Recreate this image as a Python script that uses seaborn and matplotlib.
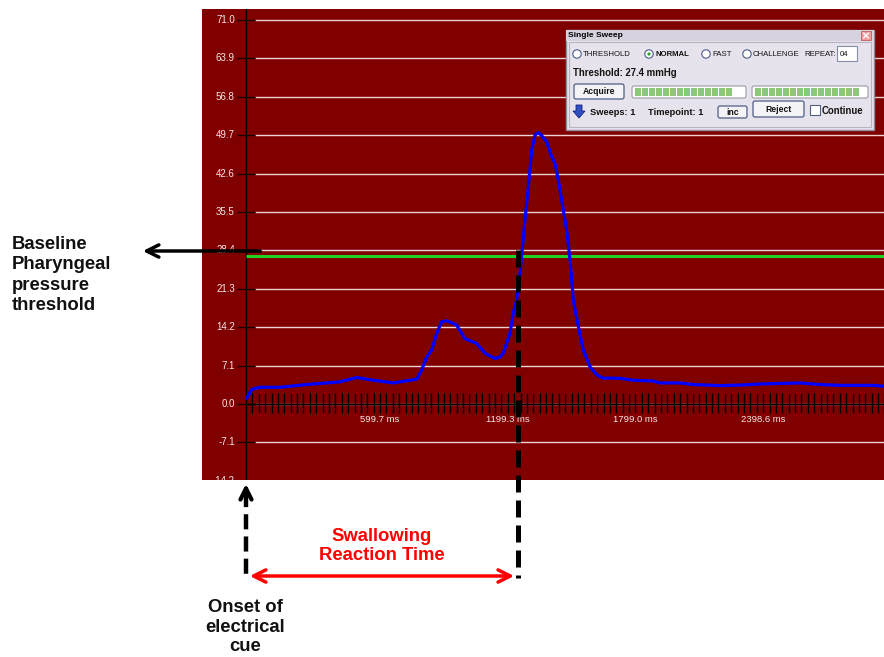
import numpy as np
import pandas as pd
import matplotlib
matplotlib.use("Agg")
import matplotlib.pyplot as plt
import seaborn as sns
from matplotlib.patches import Rectangle, FancyBboxPatch, Circle, Polygon

# ---------------- data ----------------
time_ms = [3, 27, 66, 160, 285, 441, 520, 598, 692, 755, 802, 825, 849, 872, 896,
           919, 943, 989, 1028, 1083, 1122, 1169, 1193, 1208, 1216, 1240, 1255,
           1271, 1287, 1310, 1326, 1342, 1357, 1373, 1389, 1412, 1436, 1451, 1467,
           1490, 1506, 1522, 1537, 1561, 1584, 1615, 1647, 1678, 1694, 1756, 1819,
           1913, 1944, 2038, 2101, 2226, 2320, 2414, 2508, 2602, 2696, 2790, 2884,
           2946, 2993]
pressure_mmhg = [1.05, 2.7, 3.1, 3.1, 3.6, 4.1, 4.9, 4.4, 3.9, 4.3, 4.6, 6.3, 8.7,
                 10.0, 13.1, 15.2, 15.4, 14.6, 12.1, 11.2, 9.4, 8.4, 8.7, 9.4, 10.3,
                 13.1, 16.8, 19.2, 24.2, 34.0, 40.2, 47.0, 49.7, 50.2, 49.6, 48.5,
                 45.7, 44.5, 41.4, 35.9, 32.2, 26.6, 19.2, 14.3, 10.0, 6.9, 5.4, 4.75,
                 4.8, 4.75, 4.4, 4.25, 3.9, 3.9, 3.6, 3.4, 3.5, 3.7, 3.8, 3.9, 3.6,
                 3.45, 3.45, 3.45, 3.3]
threshold_mmhg = 27.4
y_tick_values = [71.0, 63.9, 56.8, 49.7, 42.6, 35.5, 28.4, 21.3, 14.2, 7.1, 0.0, -7.1, -14.2]
y_tick_labels = ["71.0", "63.9", "56.8", "49.7", "42.6", "35.5", "28.4", "21.3",
                 "14.2", "7.1", "0.0", "-7.1", "-14.2"]
x_label_values = [599.7, 1199.3, 1799.0, 2398.6]
x_label_texts = ["599.7 ms", "1199.3 ms", "1799.0 ms", "2398.6 ms"]
minor_tick_step = 29.985
reaction_onset_ms = 0.0
reaction_end_ms = 1277.0

# ---------------- style ----------------
sns.set_style("white")
plt.rcParams["font.family"] = ["Liberation Sans", "DejaVu Sans"]

W, H = 884, 657
fig = plt.figure(figsize=(W / 100, H / 100), dpi=100)
fig.patch.set_facecolor("white")


def px_rect(l, t, r, b):
    return [l / W, 1 - b / H, (r - l) / W, (b - t) / H]


ax = fig.add_axes(px_rect(202, 9, 884, 480))
ax.set_facecolor("#800000")
XMIN, XMAX = -206.6, 2996.2
YMIN, YMAX = -14.05, 73.04

df = pd.DataFrame({"time_ms": time_ms, "pressure": pressure_mmhg})

# grid + y ticks
ax.hlines(y_tick_values, 42, XMAX, color="#f0d2d2", lw=1, zorder=1)
ax.hlines(y_tick_values, -42, 42, color="#1a0000", lw=1, zorder=2)
for v, lab in zip(y_tick_values, y_tick_labels):
    ax.text(-52, v, lab, ha="right", va="center", fontsize=7, color="#f6e6e6",
            clip_on=True, zorder=2)

# x minor ticks and axis lines
ticks = np.arange(1, 101) * minor_tick_step
ax.vlines(ticks, -1.66, 2.03, color="black", lw=1, zorder=2)
ax.axvline(0, color="black", lw=1, zorder=2)
ax.hlines(0, 0, XMAX, color="black", lw=1, zorder=2)
for v, lab in zip(x_label_values, x_label_texts):
    ax.text(v + 30, -2.8, lab, ha="center", va="center", fontsize=6.8,
            color="#f6e6e6", zorder=2)

# threshold line
ax.hlines(threshold_mmhg, 0, XMAX, color="#22d022", lw=2.2, zorder=3)

# pressure curve
sns.lineplot(data=df, x="time_ms", y="pressure", ax=ax, color="#0000ff", lw=2.3,
             estimator=None, sort=False, zorder=4)

ax.set_xlim(XMIN, XMAX)
ax.set_ylim(YMIN, YMAX)
ax.set_xlabel("")
ax.set_ylabel("")
ax.set_xticks([])
ax.set_yticks([])
for s in ax.spines.values():
    s.set_visible(False)

# ---------------- overlay in pixel coordinates ----------------
ov = fig.add_axes([0, 0, 1, 1], zorder=5)
ov.set_xlim(0, W)
ov.set_ylim(H, 0)
ov.axis("off")
ov.patch.set_alpha(0)

px_per_ms = (884 - 202) / (XMAX - XMIN)
x_on = 202 + (reaction_onset_ms - XMIN) * px_per_ms
x_end = 202 + (reaction_end_ms - XMIN) * px_per_ms

# baseline threshold arrow and text
ov.annotate("", xy=(140, 251), xytext=(263, 251),
            arrowprops=dict(arrowstyle="->", lw=2.5, color="black", mutation_scale=22))
ov.text(12, 275, "Baseline\nPharyngeal\npressure\nthreshold", ha="left", va="center",
        fontsize=13.3, fontweight="bold", color="#111111", linespacing=1.25)

# dashed verticals
ov.plot([x_on, x_on], [492, 576], color="black", lw=3.2, ls=(0, (3.4, 1.6)),
        dash_capstyle="butt")
ov.annotate("", xy=(x_on, 481), xytext=(x_on, 497),
            arrowprops=dict(arrowstyle="->", lw=3, color="black", mutation_scale=20))
ov.plot([x_end, x_end], [250, 578], color="black", lw=3.6, ls=(0, (3.4, 1.6)),
        dash_capstyle="butt")

# red double arrow
ov.annotate("", xy=(x_on + 1, 576), xytext=(x_end - 1, 576),
            arrowprops=dict(arrowstyle="<->", lw=2.5, color="#ff0000", mutation_scale=22))
ov.text(382, 546, "Swallowing\nReaction Time", ha="center", va="center",
        fontsize=13.3, fontweight="bold", color="#ff0000", linespacing=1.22)
ov.text(245, 627, "Onset of\nelectrical\ncue", ha="center", va="center",
        fontsize=13.3, fontweight="bold", color="#111111", linespacing=1.22)

# ---------------- dialog "Single Sweep" ----------------
ov.add_patch(Rectangle((566, 30), 308, 100, facecolor="#e7e3ec", edgecolor="#8e8ca0", lw=1))
ov.add_patch(Rectangle((566, 30), 308, 11, facecolor="#d6d2de", edgecolor="none"))
ov.add_patch(Rectangle((569, 42), 302, 85, facecolor="none", edgecolor="#b8b4c4", lw=0.8))
ov.text(568, 35.8, "Single Sweep", ha="left", va="center", fontsize=6.0,
        fontweight="bold", color="black")
ov.add_patch(Rectangle((861, 31), 10, 9, facecolor="#f09a9a", edgecolor="#c06060", lw=0.6))
ov.plot([863.5, 868.5], [33, 38], color="white", lw=1)
ov.plot([863.5, 868.5], [38, 33], color="white", lw=1)

dlg_font = 5.6
for cx, label, bold in [(577, "THRESHOLD", False), (649, "NORMAL", True),
                        (706, "FAST", False), (747, "CHALLENGE", False)]:
    ov.add_patch(Circle((cx, 54), 4.2, facecolor="white", edgecolor="#4a5a8c", lw=0.8))
    ov.text(cx + 6, 54.3, label, ha="left", va="center", fontsize=dlg_font,
            fontweight="bold" if bold else "normal", color="#111111")
ov.add_patch(Circle((649, 54), 1.6, facecolor="#2aa02a", edgecolor="none"))
ov.text(804, 54.3, "REPEAT:", ha="left", va="center", fontsize=dlg_font, color="#111111")
ov.add_patch(Rectangle((837, 46), 20, 15, facecolor="white", edgecolor="#8090a8", lw=0.8))
ov.text(839.5, 54, "04", ha="left", va="center", fontsize=dlg_font, color="#111111")

ov.text(573, 72.5, "Threshold: 27.4 mmHg", ha="left", va="center", fontsize=6.9,
        fontweight="bold", color="#111111")

# buttons
for (l, t, r, b, txt) in [(574, 84, 624, 99, "Acquire"), (718, 106, 747, 118, "inc"),
                          (753, 101, 804, 117, "Reject")]:
    ov.add_patch(FancyBboxPatch((l, t), r - l, b - t, boxstyle="round,pad=0,rounding_size=2",
                                facecolor="#f3f3f8", edgecolor="#4e5e86", lw=0.9))
    ov.text((l + r) / 2, (t + b) / 2 + 0.5, txt, ha="center", va="center",
            fontsize=6.2, fontweight="bold", color="#111111")

# progress bars
for (l, r) in [(632, 746), (752, 868)]:
    ov.add_patch(FancyBboxPatch((l, 86), r - l, 12, boxstyle="round,pad=0,rounding_size=2",
                                facecolor="white", edgecolor="#9a9aa6", lw=0.8))
    seg_x = l + 2.5
    while seg_x + 6 < r - 8:
        ov.add_patch(Rectangle((seg_x, 88), 6, 8, facecolor="#8cc87a", edgecolor="none"))
        seg_x += 7

# row 4
ov.add_patch(Polygon([[576, 105], [582, 105], [582, 111], [585, 111], [579, 118],
                      [573, 111], [576, 111]], closed=True, facecolor="#3050c0",
                     edgecolor="#102080", lw=0.6))
ov.text(590, 112.5, "Sweeps: 1", ha="left", va="center", fontsize=6.7,
        fontweight="bold", color="#111111")
ov.text(648, 112.5, "Timepoint: 1", ha="left", va="center", fontsize=6.7,
        fontweight="bold", color="#111111")
ov.add_patch(Rectangle((810, 105), 9.5, 10, facecolor="white", edgecolor="#4e5e86", lw=0.8))
ov.text(822, 110.5, "Continue", ha="left", va="center", fontsize=6.9,
        fontweight="bold", color="#111111")

fig.savefig("out.png", dpi=100, facecolor="white")
